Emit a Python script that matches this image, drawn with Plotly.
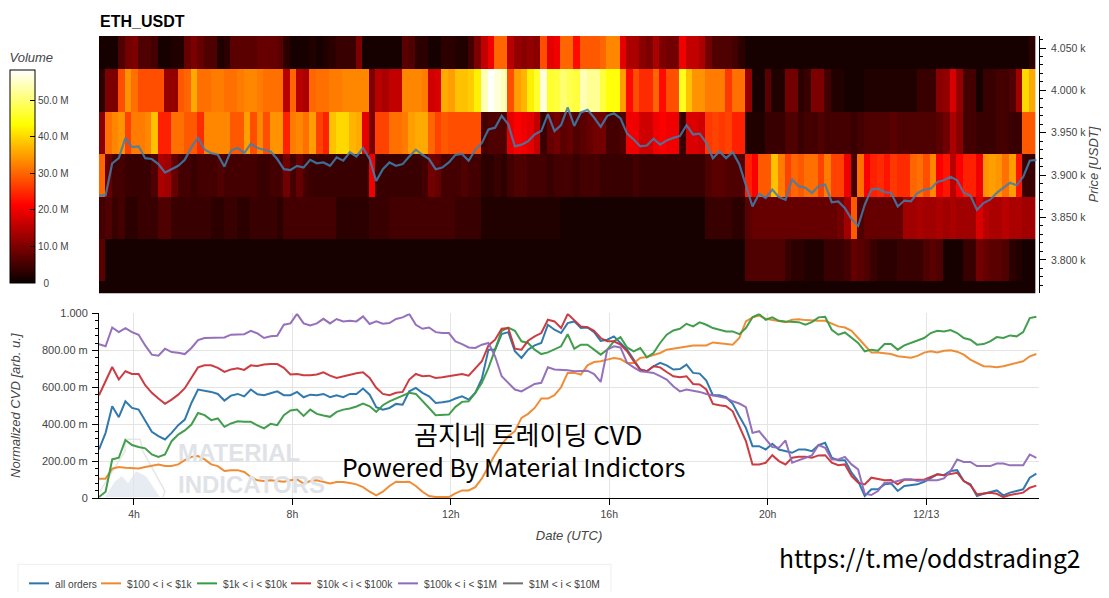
import pandas as pd
import plotly.graph_objects as go

FONT = "Liberation Sans"
CJK_FONT = "Noto Sans CJK KR"

# page is 1109x598 but the browser leaves an 8px body margin
PAGE_MARGIN = 8
FIG_W = 1093
FIG_H = 584
# edges of the plotting area on the page
PLOT_L = 99
PLOT_R = 1039
PLOT_T = 36
PLOT_B = 497.7

# CVD samples, every 10 minutes, in milli arb. units
line_start = "2021-12-12 03:07"
x_min = "2021-12-12 03:07"
x_max = "2021-12-13 02:51"

all_orders = [
    263, 353, 497, 438, 524, 488, 479, 420, 359, 335, 317, 353, 395, 425, 515, 588, 582, 575, 564, 528,
    555, 564, 551, 588, 562, 557, 568, 578, 557, 557, 575, 546, 560, 557, 564, 546,
    557, 546, 564, 564, 593, 560, 492, 479, 488, 510, 506, 578, 597, 570, 551, 515, 519, 524, 539, 551,
    533, 570, 647, 804, 804, 888, 899, 795, 759, 804, 827, 840, 939, 912, 894, 948,
    957, 921, 924, 899, 852, 858, 876, 840, 804, 750, 696, 687, 714, 732, 719, 696, 699, 723, 678, 674,
    636, 557, 557, 546, 510, 443, 380, 281, 281, 263, 294, 263, 254, 245, 263, 263,
    254, 287, 299, 218, 204, 204, 137, 92, 11, 47, 47, 74, 79, 38, 65, 68, 74, 88, 110, 128,
    124, 146, 151, 92, 74, 11, 23, 34, 41, 14, 29, 38, 47, 110, 132,
]
usd_100_1k = [
    105, 105, 159, 168, 164, 160, 160, 168, 173, 182, 173, 173, 182, 205, 223, 227, 209, 182, 173, 146,
    150, 151, 141, 114, 96, 92, 96, 94, 88, 96, 101, 78, 92, 96, 88, 79,
    87, 87, 81, 74, 59, 34, 14, 34, 65, 88, 87, 88, 65, 34, 11, 5, 5, 5, 25, 41,
    41, 59, 106, 173, 236, 290, 335, 362, 434, 456, 488, 539, 539, 557, 600, 678,
    678, 669, 719, 737, 741, 750, 759, 753, 732, 732, 759, 764, 777, 786, 804, 809, 816, 822, 827, 827,
    827, 843, 840, 834, 831, 867, 957, 979, 989, 971, 966, 957, 953, 966, 969, 964,
    960, 960, 960, 943, 930, 924, 906, 867, 825, 789, 789, 786, 780, 768, 764, 760, 770, 788, 795, 789,
    798, 800, 793, 777, 750, 732, 714, 712, 708, 714, 723, 732, 741, 768, 780,
]
usd_1k_10k = [
    5, 34, 209, 218, 314, 287, 276, 269, 236, 223, 236, 308, 344, 366, 398, 461, 449, 422, 431, 386,
    404, 416, 413, 413, 393, 377, 402, 395, 449, 474, 479, 445, 479, 456, 447, 440,
    467, 479, 485, 496, 512, 497, 467, 503, 524, 539, 551, 570, 564, 528, 488, 449, 449, 452, 494, 521,
    524, 570, 624, 705, 804, 906, 924, 906, 849, 840, 804, 780, 789, 804, 822, 888,
    809, 831, 831, 804, 777, 804, 849, 872, 816, 795, 813, 762, 786, 840, 885, 908, 917, 944, 930, 952,
    939, 921, 912, 903, 903, 888, 921, 979, 997, 966, 979, 960, 957, 953, 953, 939,
    953, 979, 982, 912, 885, 897, 867, 840, 795, 804, 798, 834, 834, 804, 827, 840, 854, 867, 894, 906,
    903, 910, 894, 867, 858, 831, 834, 849, 872, 867, 881, 876, 899, 975, 982,
]
usd_10k_100k = [
    557, 633, 710, 642, 687, 672, 672, 611, 570, 539, 510, 533, 560, 595, 651, 708, 719, 719, 705, 683,
    697, 703, 694, 719, 715, 723, 726, 726, 705, 669, 672, 665, 665, 669, 681, 663,
    651, 660, 669, 676, 681, 651, 597, 564, 557, 570, 575, 642, 672, 660, 663, 651, 654, 660, 669, 672,
    663, 705, 741, 827, 858, 917, 921, 809, 804, 852, 876, 894, 966, 957, 921, 997,
    966, 930, 926, 906, 867, 849, 849, 831, 795, 741, 696, 687, 714, 708, 683, 660, 654, 660, 618, 615,
    588, 510, 503, 497, 470, 389, 308, 182, 182, 191, 232, 200, 182, 218, 223, 223,
    218, 231, 232, 191, 178, 182, 119, 83, 74, 110, 101, 96, 97, 74, 99, 99, 96, 99, 114, 128,
    124, 132, 137, 92, 70, 20, 23, 29, 23, 5, 16, 23, 29, 56, 67,
]
usd_100k_1m = [
    834, 822, 924, 899, 921, 899, 885, 827, 777, 771, 809, 791, 787, 780, 813, 856, 867, 867, 867, 870,
    885, 885, 888, 906, 892, 867, 876, 879, 939, 946, 998, 946, 935, 946, 971, 946,
    970, 957, 960, 957, 984, 943, 957, 944, 948, 970, 979, 997, 939, 917, 924, 899, 894, 894, 849, 834,
    816, 813, 831, 840, 768, 660, 624, 588, 578, 596, 618, 624, 708, 696, 696, 692,
    687, 690, 690, 672, 629, 804, 822, 816, 732, 708, 687, 683, 678, 660, 642, 606, 578, 588, 582, 575,
    564, 557, 551, 542, 524, 512, 492, 353, 362, 317, 276, 272, 312, 191, 204, 214,
    231, 287, 272, 209, 209, 223, 182, 155, 23, 16, 38, 83, 83, 92, 101, 101, 92, 96, 96, 96,
    106, 146, 209, 195, 195, 173, 173, 173, 187, 187, 177, 177, 177, 236, 218,
]
price = [
    3876, 3876, 3914, 3920, 3944, 3933, 3934, 3920, 3919, 3913, 3903, 3907, 3911, 3918, 3933, 3944, 3930, 3926, 3924, 3910,
    3929, 3932, 3926, 3937, 3932, 3930, 3928, 3919, 3907, 3906, 3911, 3909, 3918, 3914, 3915, 3911,
    3921, 3917, 3927, 3922, 3932, 3919, 3893, 3907, 3915, 3911, 3913, 3922, 3930, 3924, 3919, 3907, 3909, 3915, 3924, 3925,
    3917, 3930, 3938, 3954, 3956, 3970, 3960, 3934, 3936, 3940, 3948, 3952, 3972, 3952, 3959, 3980,
    3958, 3974, 3977, 3968, 3957, 3970, 3973, 3967, 3949, 3942, 3934, 3935, 3943, 3936, 3941, 3944, 3946, 3959, 3948, 3949,
    3938, 3920, 3928, 3920, 3927, 3913, 3887, 3863, 3878, 3873, 3883, 3874, 3871, 3895, 3887, 3885,
    3879, 3887, 3889, 3868, 3869, 3861, 3848, 3840, 3865, 3883, 3884, 3880, 3879, 3863, 3870, 3869, 3879, 3883, 3884, 3892,
    3894, 3898, 3894, 3879, 3876, 3859, 3867, 3871, 3879, 3885, 3891, 3888, 3898, 3917, 3918,
]

# volume per price band, in millions, one column per 10 minutes
heat_start = "2021-12-12 03:11"
price_bands = [3750, 3800, 3850, 3900, 3950, 4000, 4050]
vol_3750 = [
    1, 1, 1, 1, 1, 1, 1, 1, 1, 1, 1, 1, 1, 1, 1, 1, 1, 1, 1, 1,
    1, 1, 1, 1, 1, 1, 1, 1, 1, 1, 1, 1, 1, 1, 1, 1, 1, 1, 1, 1,
    1, 1, 1, 1, 1, 1, 1, 1, 1, 1, 1, 1, 1, 1, 1, 1, 1, 1, 1, 1,
    1, 1, 1, 1, 1, 1, 1, 1, 1, 1, 1, 1, 1, 1, 1, 1, 1, 1, 1, 1,
    1, 1, 1, 1, 1, 1, 1, 1, 1, 1, 1, 1, 1, 1, 1, 1, 1, 1, 1, 1,
    1, 1, 1, 1, 1, 1, 1, 1, 1, 1, 1, 1, 1, 1, 1, 1, 1, 1, 1, 1,
    1, 1, 1, 1, 1, 1, 1, 1, 1, 1, 1, 1, 1, 1, 1, 1, 1, 1, 1, 1,
    1, 1,
]
vol_3800 = [
    7, 1, 1, 1, 1, 1, 1, 1, 1, 1, 1, 1, 1, 1, 1, 1, 1, 1, 1, 1,
    1, 1, 1, 1, 1, 1, 1, 1, 1, 1, 1, 1, 1, 1, 1, 1, 1, 1, 1, 1,
    1, 1, 1, 1, 1, 1, 1, 1, 1, 1, 1, 1, 1, 1, 1, 1, 1, 1, 1, 1,
    1, 1, 1, 1, 1, 1, 1, 1, 1, 1, 1, 1, 1, 1, 1, 1, 1, 1, 1, 1,
    1, 1, 1, 1, 1, 1, 1, 1, 1, 1, 1, 1, 1, 1, 1, 1, 1, 1,
    6, 6, 6, 6, 6, 6, 4, 3, 3,
    2, 2, 2, 4, 4, 4, 5, 8, 7, 6, 4, 3, 3, 3, 4, 4, 4, 4, 6, 7, 6, 1, 1, 1, 4, 4, 9, 8, 7, 7, 6, 3, 2, 1, 1,
]
vol_3850 = [
    5, 6, 4, 5, 3, 3, 4, 4, 4, 6, 6, 4, 4, 4, 4, 4, 4, 3, 3, 4, 4, 3, 3, 4, 4, 4, 4, 3, 5, 5, 5, 5, 5, 5, 5, 5,
    3, 3, 3, 3, 3, 4, 4, 4, 5, 5, 5, 5, 5, 5, 5, 5, 5, 5, 4, 4, 4, 4, 2, 2, 2, 2, 2, 2, 2, 2, 2, 2, 2, 2, 1,
    1, 1, 1, 1, 1, 1, 1, 1, 1, 1, 1, 1, 1, 1, 1, 1, 1, 1, 1, 1, 1, 4, 4, 4, 4, 3, 3, 7, 8, 8, 8, 8, 8, 8, 8, 8,
    8, 8, 8, 8, 8, 9, 13, 29, 6, 8, 8, 8, 8, 8, 8, 13, 13, 14, 13, 13, 14, 13, 14, 13, 13, 13, 18, 15, 14, 14, 15, 14, 14, 13, 13,
]
vol_3900 = [
    30, 8, 5, 5, 4, 4, 4, 4, 6, 14, 13, 8, 5, 5, 4, 5, 5, 5, 6, 5, 5, 5, 5, 5, 4, 4, 5, 5, 9, 5, 8, 5, 4, 4, 4, 4,
    4, 4, 4, 4, 4, 20, 4, 4, 4, 4, 4, 4, 4, 5, 9, 8, 5, 5, 5, 6, 5, 5, 3, 3, 4, 3, 5, 6, 6, 5, 5, 5, 4, 5, 5,
    5, 4, 5, 5, 5, 4, 4, 4, 4, 4, 5, 4, 4, 4, 4, 4, 4, 4, 4, 4, 4, 6, 7, 7, 6, 6, 6, 24, 21, 29, 29, 38, 32, 27, 30, 29,
    31, 31, 27, 32, 27, 27, 20, 5, 31, 21, 24, 25, 23, 26, 25, 25, 30, 31, 28, 33, 21, 23, 15, 21, 24, 24, 20, 34, 35, 34, 31, 35, 23, 4, 4,
]
vol_3950 = [
    11, 31, 33, 34, 27, 32, 32, 33, 38, 24, 24, 31, 31, 29, 29, 25, 33, 33, 33, 33, 29, 29, 35, 28, 33, 28, 34, 34, 24, 32, 33, 31, 35, 27, 24, 38,
    40, 40, 37, 36, 19, 10, 27, 27, 31, 31, 32, 35, 36, 36, 30, 27, 29, 28, 28, 28, 28, 28, 5, 6, 6, 6, 19, 21, 20, 19, 16, 4, 8, 9, 7,
    8, 6, 7, 8, 9, 9, 5, 5, 6, 20, 20, 17, 17, 20, 21, 20, 20, 4, 18, 18, 17, 26, 27, 26, 27, 24, 24, 2, 2, 2, 4, 4, 4, 6, 6, 4,
    5, 5, 6, 5, 5, 5, 5, 4, 5, 6, 6, 6, 6, 7, 6, 6, 6, 6, 6, 6, 7, 9, 14, 11, 5, 5, 4, 4, 4, 5, 5, 4, 4, 29, 29,
]
vol_4000 = [
    3, 10, 10, 28, 34, 31, 28, 28, 28, 28, 12, 12, 29, 30, 36, 31, 31, 32, 32, 31, 31, 32, 33, 33, 32, 31, 31, 31, 15, 30, 15, 14, 30, 31, 31, 32,
    32, 33, 33, 33, 33, 10, 15, 14, 16, 16, 33, 33, 33, 32, 17, 18, 36, 35, 38, 38, 39, 42, 54, 58, 56, 54, 28, 35, 37, 42, 46, 56, 46, 47, 50,
    48, 47, 54, 52, 52, 47, 44, 44, 35, 22, 28, 25, 25, 30, 22, 28, 28, 45, 38, 34, 34, 32, 32, 32, 26, 31, 31, 12, 1, 1, 7, 2, 2, 9, 9, 3,
    4, 10, 10, 5, 2, 2, 1, 1, 1, 2, 2, 2, 2, 2, 2, 2, 2, 4, 4, 4, 11, 12, 18, 12, 5, 5, 1, 4, 4, 5, 5, 6, 13, 40, 36,
]
vol_4050 = [
    1, 1, 1, 6, 9, 10, 6, 6, 5, 1, 1, 2, 2, 8, 10, 8, 6, 6, 2, 3, 7, 7, 7, 7, 8, 8, 8, 7, 3, 1, 1, 1, 2, 1, 2, 3,
    4, 4, 4, 10, 1, 1, 1, 1, 1, 1, 7, 6, 3, 3, 1, 1, 3, 3, 2, 2, 5, 10, 16, 20, 30, 30, 15, 12, 11, 12, 11, 28, 19, 20, 30,
    30, 22, 29, 29, 29, 30, 33, 33, 19, 14, 14, 11, 10, 14, 10, 9, 9, 20, 16, 16, 14, 9, 6, 6, 6, 5, 3, 1, 1, 1, 1, 1, 1, 1, 1, 1,
    1, 1, 1, 1, 1, 1, 1, 1, 1, 1,
    1, 1, 1, 1, 1, 1, 1, 1, 1, 1,
    1, 1, 1, 1, 1, 1, 1, 1, 1, 1,
    1, 1, 1, 1, 3,
]

# axis ticks
date_ticks = ["2021-12-12 04:00", "2021-12-12 08:00", "2021-12-12 12:00", "2021-12-12 16:00", "2021-12-12 20:00", "2021-12-13 00:00"]
date_labels = ["4h", "8h", "12h", "16h", "20h", "12/13"]
cvd_ticks = [0, 200, 400, 600, 800, 1000]
cvd_labels = ["0", "200.00 m", "400.00 m", "600.00 m", "800.00 m", "1.000"]
price_ticks = [3800, 3850, 3900, 3950, 4000, 4050]
price_labels = ["3.800 k", "3.850 k", "3.900 k", "3.950 k", "4.000 k", "4.050 k"]
volume_ticks = [0, 10, 20, 30, 40, 50]
volume_labels = ["\u00a0\u00a00", "10.0 M", "20.0 M", "30.0 M", "40.0 M", "50.0 M"]

legend_labels = ["all orders", "$100 < i < $1k", "$1k < i < $10k", "$10k < i < $100k", "$100k < i < $1M", "$1M < i < $10M"]
legend_colors = ["#2b75ab", "#ee8a2e", "#3a9a45", "#c9343a", "#9069b8", "#6f6f6f"]
legend_line_px = [29, 101, 197, 291, 398, 503]

HOT = [[0, "rgb(10,0,0)"], [0.365, "rgb(255,0,0)"], [0.746, "rgb(255,255,0)"], [1, "rgb(255,255,255)"]]

heat_rows = [vol_3750, vol_3800, vol_3850, vol_3900, vol_3950, vol_4000, vol_4050]
for row in heat_rows:
    assert len(row) == 142, len(row)


def px_x(px):
    return (px - PLOT_L) / (PLOT_R - PLOT_L)


def px_y(py):
    return (PLOT_B - py) / (PLOT_B - PLOT_T)


def px_path(points):
    parts = [f"{px_x(x):.5f},{px_y(y):.5f}" for x, y in points]
    return "M " + " L ".join(parts)


def page_text(text, x, y, size, color="black", family=FONT, anchor="left"):
    return dict(
        text=text, xref="paper", yref="paper", x=px_x(x), y=px_y(y), xanchor=anchor, yanchor="middle",
        showarrow=False, font=dict(size=size, color=color, family=family),
    )


line_x = pd.date_range(line_start, periods=len(price), freq="10min")
heat_x = pd.date_range(heat_start, periods=len(vol_4000), freq="10min")

fig = go.Figure()

# colorbar len includes its title, so it starts above the 69..283 bar
fig.add_trace(go.Heatmap(
    x=heat_x, y=price_bands, z=heat_rows,
    colorscale=HOT, zmin=0, zmax=58.2, xaxis="x", yaxis="y", hoverongaps=False,
    colorbar=dict(
        x=px_x(10), xanchor="left", xpad=0,
        y=px_y(50), yanchor="top", ypad=0,
        lenmode="pixels", len=233, thicknessmode="pixels", thickness=25,
        outlinecolor="black", outlinewidth=1,
        tickmode="array", tickvals=volume_ticks, ticktext=volume_labels,
        ticks="inside", ticklen=5, tickcolor="black",
        tickfont=dict(size=10, color="#444444", family=FONT),
        title=dict(text="<i>Volume</i>", side="top", font=dict(size=13, color="#444444", family=FONT)),
    ),
))
fig.add_trace(go.Scatter(
    x=line_x, y=price, mode="lines", name="price", xaxis="x", yaxis="y", opacity=0.85,
    line=dict(color="#3f7fb0", width=2.2),
))

series = [all_orders, usd_100_1k, usd_1k_10k, usd_10k_100k, usd_100k_1m]
for values, label, color in zip(series, legend_labels, legend_colors):
    assert len(values) == len(price), label
    fig.add_trace(go.Scatter(
        x=line_x, y=values, mode="lines", name=label, xaxis="x2", yaxis="y2", opacity=0.95,
        line=dict(color=color, width=2),
    ))

# hand placed legend, the built-in one spaces entries too wide
shapes = [dict(
    type="rect", xref="paper", yref="paper", x0=px_x(18), x1=px_x(611), y0=px_y(600), y1=px_y(564),
    line=dict(color="#eeeeee", width=1), fillcolor="white", layer="below",
)]
annotations = []
for label, color, lx in zip(legend_labels, legend_colors, legend_line_px):
    shapes.append(dict(
        type="line", xref="paper", yref="paper", x0=px_x(lx), x1=px_x(lx + 20), y0=px_y(583), y1=px_y(583),
        line=dict(color=color, width=2),
    ))
    annotations.append(page_text(label.replace("<", "&lt;"), lx + 23.5, 584, 10.2, "#444444"))

# watermark, flask and mountains sit under the lines
shapes.append(dict(
    type="path", xref="paper", yref="paper", layer="below", fillcolor="#e6edf1", line=dict(width=0),
    path=px_path([(105, 497), (115, 481), (122, 476), (128, 483), (136, 471), (146, 476), (160, 497)]) + " Z",
))
shapes.append(dict(
    type="path", xref="paper", yref="paper", layer="below", line=dict(color="#e6e6e6", width=1.5),
    path=px_path([(100, 491), (125, 451), (125, 439), (140, 439), (143, 451), (165, 491), (163, 497)]),
))
nudge = "\u00a0" * 5
annotations += [
    page_text("<b>MATERIAL</b>", 176, 452, 24, "#dfe3e7"),
    page_text("<b>INDICATORS</b>", 176, 484, 24, "#dfe3e7"),
    page_text("<b>ETH_USDT</b>", 97.5, 22, 16),
    page_text(
        f"<span style='font-size:26px'>{nudge}곰지네 트레이딩 CVD</span><br>Powered By Material Indictors",
        513, 449, 24.8, family=CJK_FONT, anchor="center",
    ),
    page_text("https://t.me/oddstrading2", 930, 556.5, 24.7, family=CJK_FONT, anchor="center"),
]

tick_font = dict(size=10.5, color="#444444", family=FONT)
title_font = dict(size=13, color="#444444", family=FONT)

fig.update_layout(
    width=FIG_W, height=FIG_H,
    margin=dict(
        l=PLOT_L - PAGE_MARGIN, r=FIG_W - (PLOT_R - PAGE_MARGIN),
        t=PLOT_T - PAGE_MARGIN, b=FIG_H - (PLOT_B - PAGE_MARGIN), autoexpand=False,
    ),
    paper_bgcolor="white", plot_bgcolor="rgba(0,0,0,0)",
    showlegend=False,
    shapes=shapes, annotations=annotations,
    xaxis=dict(domain=[0, 1], range=[x_min, x_max], visible=False, anchor="y"),
    yaxis=dict(
        domain=[px_y(293), 1], range=[3760.7, 4064.2], side="right", anchor="x",
        tickmode="array", tickvals=price_ticks, ticktext=price_labels, tickfont=tick_font,
        ticks="outside", ticklen=6, tickcolor="black", showline=True, linecolor="black", showgrid=False,
        ticklabelstandoff=3,
        minor=dict(dtick=10, ticks="outside", ticklen=3, tickcolor="black", showgrid=False),
        title=dict(text="<i>Price [USDT]</i>", font=title_font, standoff=18), zeroline=False,
    ),
    xaxis2=dict(
        domain=[0, 1], range=[x_min, x_max], anchor="y2",
        tickmode="array", tickvals=date_ticks, ticktext=date_labels, tickfont=tick_font,
        ticks="outside", ticklen=6, tickcolor="black", showline=True, linecolor="black",
        showgrid=True, gridcolor="#e4e4e4",
        title=dict(text="<i>Date (UTC)</i>", font=title_font, standoff=12),
    ),
    yaxis2=dict(
        domain=[0, px_y(313.3)], range=[0, 1000], anchor="x2",
        tickmode="array", tickvals=cvd_ticks, ticktext=cvd_labels,
        tickfont=dict(size=11, color="#444444", family=FONT), ticklabelstandoff=2,
        ticks="outside", ticklen=6, tickcolor="black", showline=True, linecolor="black",
        showgrid=True, gridcolor="#e4e4e4", zeroline=False,
        minor=dict(dtick=40, ticks="outside", ticklen=3, tickcolor="black", showgrid=False),
        title=dict(text="<i>Normalized CVD [arb. u.]</i>", font=title_font, standoff=65),
    ),
)

fig.write_html("out.html")
